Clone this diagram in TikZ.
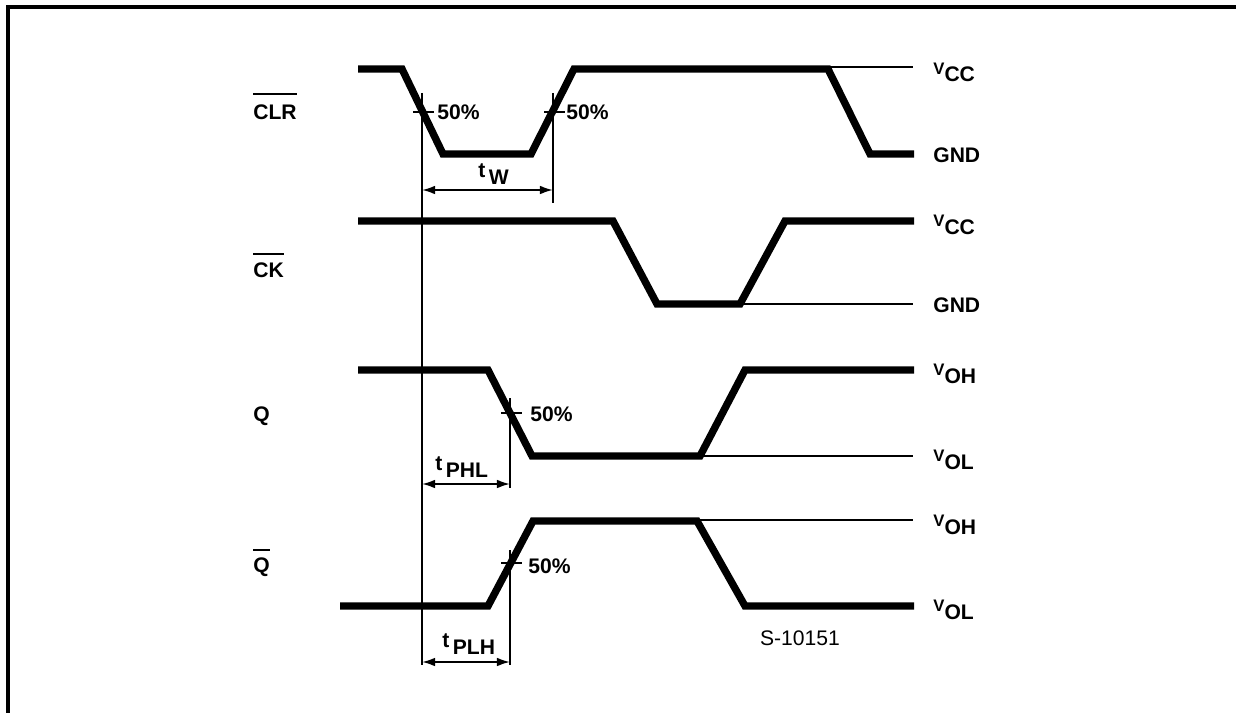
\documentclass[tikz,border=0pt]{standalone}
\usepackage{fontspec}
\setmainfont{Liberation Sans}
\usepackage{tikz}
\usetikzlibrary{arrows.meta,calc}

\newlength{\ovw}
\newcommand{\ovl}[2]{\settowidth{\ovw}{#2}\rlap{\rule[#1]{\ovw}{1.1pt}}#2}
\newcommand{\tsub}[2]{#1\,\raisebox{-4pt}{#2}}
\newcommand{\vsub}[1]{\raisebox{4pt}{\fontsize{9.5}{9.5}\selectfont V}#1}

\begin{document}
\begin{tikzpicture}[x=0.02cm, y=-0.02cm,
  wave/.style={line width=4.2pt},
  lvl/.style={line width=1.1pt},
  dim/.style={line width=1.1pt, {Latex[length=7.5pt,width=5pt]}-{Latex[length=7.5pt,width=5pt]}},
  every node/.style={inner sep=0pt, font=\fontsize{12}{14}\selectfont\bfseries}]
  \useasboundingbox (0,0) rectangle (1236,713);
  \draw[line width=2.4pt] (1236,7) -- (8,7) -- (8,713);

  % signal names
  \node[anchor=base west] (clr) at (253,119) {\ovl{13.5pt}{CLR}};
  \node[anchor=base west] (ck)  at (253,277) {\ovl{12.5pt}{CK}};
  \node[anchor=base west] (q)   at (253,421) {Q};
  \node[anchor=base west] (qb)  at (253,572) {\ovl{12pt}{Q}};

  % waveforms
  \draw[wave] (358,69) -- (402,69) -- (443,154) -- (531,154) -- (574,69)
    -- (828,69) -- (870,154) -- (914,154);
  \draw[wave] (358,221) -- (613,221) -- (657,304) -- (740,304) -- (785,221) -- (914,221);
  \draw[wave] (358,370) -- (488,370) -- (532,456) -- (700,456) -- (745,370) -- (914,370);
  \draw[wave] (340,606) -- (488,606) -- (533,521) -- (697,521) -- (745,606) -- (914,606);

  % levels
  \node[anchor=base west] (vcc1) at (933,82)  {\vsub{CC}};
  \node[anchor=base west] (gnd1) at (933,162) {GND};
  \node[anchor=base west] (vcc2) at (933,234) {\vsub{CC}};
  \node[anchor=base west] (gnd2) at (933,312) {GND};
  \node[anchor=base west] (voh1) at (933,383) {\vsub{OH}};
  \node[anchor=base west] (vol1) at (933,469) {\vsub{OL}};
  \node[anchor=base west] (voh2) at (933,534) {\vsub{OH}};
  \node[anchor=base west] (vol2) at (933,619) {\vsub{OL}};
  \coordinate (a1) at (830,67);  \coordinate (a2) at (913,67);
  \coordinate (b1) at (744,304); \coordinate (b2) at (913,304);
  \coordinate (c1) at (702,456); \coordinate (c2) at (913,456);
  \coordinate (d1) at (699,520); \coordinate (d2) at (913,520);
  \draw[lvl] (a1) -- (a2) (b1) -- (b2) (c1) -- (c2) (d1) -- (d2);

  % 50% points
  \coordinate (x1) at (422,112);
  \coordinate (x2) at (553,112);
  \coordinate (x3) at (510,413);
  \coordinate (x4) at (510,563);
  \foreach \p in {x1,x2,x3,x4}
    \draw[lvl] (\p) ++(-9,0) -- ++(21,0);
  \node[anchor=west] (p1) at (437,112) {50\%};
  \node[anchor=west] (p2) at (566,112) {50\%};
  \node[anchor=west] (p3) at (530,414) {50\%};
  \node[anchor=west] (p4) at (528,566) {50\%};

  % timing
  \coordinate (w1) at (422,190); \coordinate (w2) at (553,190);
  \coordinate (h1) at (422,484); \coordinate (h2) at (510,484);
  \coordinate (l1) at (422,662); \coordinate (l2) at (510,662);
  \draw[lvl] ($(x1)+(0,-19)$) -- ($(l1)+(0,3)$);
  \draw[lvl] ($(x2)+(0,-19)$) -- ($(w2)+(0,13)$);
  \draw[lvl] ($(x3)+(0,-15)$) -- ($(h2)+(0,4)$);
  \draw[lvl] ($(x4)+(0,-13)$) -- ($(l2)+(0,3)$);
  \draw[dim] (w1) -- (w2);
  \draw[dim] (h1) -- (h2);
  \draw[dim] (l1) -- (l2);
  \node[anchor=base west] (tw)   at (478,177) {\tsub{t}{W}};
  \node[anchor=base west] (tphl) at (435,470) {\tsub{t}{PHL}};
  \node[anchor=base west] (tplh) at (442,647) {\tsub{t}{PLH}};

  \node[font=\fontsize{12}{14}\selectfont] (ref) at (800,638) {S-10151};
\end{tikzpicture}
\end{document}
